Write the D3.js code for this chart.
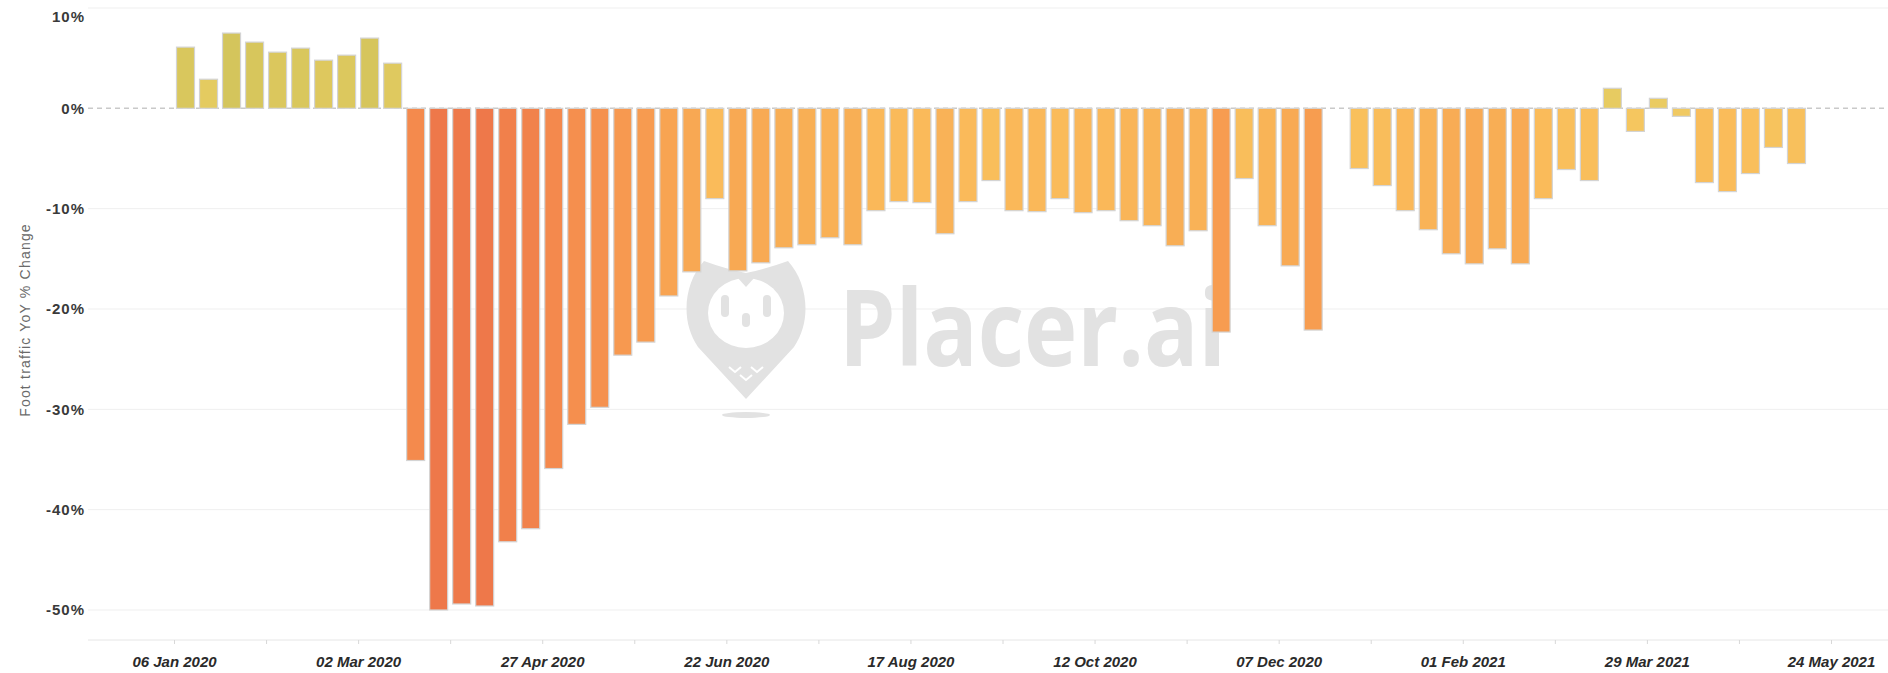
<!DOCTYPE html>
<html>
<head>
<meta charset="utf-8">
<title>Foot traffic YoY % Change</title>
<script src="https://cdn.jsdelivr.net/npm/d3@7"></script>
<style>
  body { margin: 0; background: #fff; }
  svg { display: block; font-family: "Liberation Sans", Arial, sans-serif; }
  .grid line { stroke: #efefef; stroke-width: 1; }
  .zero { stroke: #c9c9c9; stroke-width: 1.5; stroke-dasharray: 5,4; }
  .bar { stroke: #d4d4d4; stroke-width: 1.2; }
  .y-axis text { font-size: 15px; font-weight: bold; fill: #3a3a3a; letter-spacing: 1px; }
  .x-axis text { font-size: 15px; font-weight: bold; font-style: italic; fill: #2a2a2a; }
  .x-axis line { stroke: #d8d8d8; }
  .y-title { font-size: 14px; fill: #6a6a6a; letter-spacing: 1.2px; }
  .mark { fill: #e2e2e2; }
</style>
</head>
<body>
<div id="chart"></div>
<script>
// week start (Monday) for each bar
var weeks = [
  "2020-01-06", "2020-01-13", "2020-01-20", "2020-01-27", "2020-02-03", "2020-02-10",
  "2020-02-17", "2020-02-24", "2020-03-02", "2020-03-09", "2020-03-16", "2020-03-23",
  "2020-03-30", "2020-04-06", "2020-04-13", "2020-04-20", "2020-04-27", "2020-05-04",
  "2020-05-11", "2020-05-18", "2020-05-25", "2020-06-01", "2020-06-08", "2020-06-15",
  "2020-06-22", "2020-06-29", "2020-07-06", "2020-07-13", "2020-07-20", "2020-07-27",
  "2020-08-03", "2020-08-10", "2020-08-17", "2020-08-24", "2020-08-31", "2020-09-07",
  "2020-09-14", "2020-09-21", "2020-09-28", "2020-10-05", "2020-10-12", "2020-10-19",
  "2020-10-26", "2020-11-02", "2020-11-09", "2020-11-16", "2020-11-23", "2020-11-30",
  "2020-12-07", "2020-12-14", "2020-12-21", "2020-12-28", "2021-01-04", "2021-01-11",
  "2021-01-18", "2021-01-25", "2021-02-01", "2021-02-08", "2021-02-15", "2021-02-22",
  "2021-03-01", "2021-03-08", "2021-03-15", "2021-03-22", "2021-03-29", "2021-04-05",
  "2021-04-12", "2021-04-19", "2021-04-26", "2021-05-03", "2021-05-10"
];

// YoY % change, null = no data that week
var yoyChange = [
  6.1, 2.9, 7.5, 6.6, 5.6, 6.0,
  4.8, 5.3, 7.0, 4.5, -35.1, -50.0,
  -49.4, -49.6, -43.2, -41.9, -35.9, -31.5,
  -29.8, -24.6, -23.3, -18.7, -16.3, -9.0,
  -16.2, -15.4, -13.9, -13.6, -12.9, -13.6,
  -10.2, -9.3, -9.4, -12.5, -9.3, -7.2,
  -10.2, -10.3, -9.0, -10.4, -10.2, -11.2,
  -11.7, -13.7, -12.2, -22.3, -7.0, -11.7,
  -15.7, -22.1, null, -6.0, -7.7, -10.2,
  -12.1, -14.5, -15.5, -14.0, -15.5, -9.0,
  -6.1, -7.2, 2.0, -2.3, 1.0, -0.8,
  -7.4, -8.3, -6.5, -3.9, -5.5
];

var yTicks = [10, 0, -10, -20, -30, -40, -50];

var xTicks = [
  "2020-01-06", "2020-02-03", "2020-03-02", "2020-03-30", "2020-04-27", "2020-05-25",
  "2020-06-22", "2020-07-20", "2020-08-17", "2020-09-14", "2020-10-12", "2020-11-09",
  "2020-12-07", "2021-01-04", "2021-02-01", "2021-03-01", "2021-03-29", "2021-04-26",
  "2021-05-24"
];

(function(d3) {
  'use strict';

  var width = 1888;
  var height = 673;
  var plotLeft = 88;
  var plotRight = 1888;
  var axisY = 640;
  var barWidth = 18;

  var parse = d3.utcParse('%Y-%m-%d');
  var fmt = d3.utcFormat('%d %b %Y');

  var data = weeks.map(function(w, i) {
    return { date: parse(w), value: yoyChange[i] };
  }).filter(function(d) { return d.value !== null; });

  var tickDates = xTicks.map(parse);

  var x = d3.scaleUtc()
    .domain([tickDates[0], tickDates[tickDates.length - 1]])
    .range([174, 1831]);

  var y = d3.scaleLinear()
    .domain([10, -50])
    .range([8, 610]);

  var color = d3.scaleLinear()
    .domain([-50, -35, -23, -15, -9, -3, 0, 3, 8])
    .range(['#ee784a', '#f48a4d', '#f79b50', '#f8ab54', '#fabb5a',
            '#f7c45e', '#edcb63', '#e4cb60', '#d2c45b'])
    .clamp(true);

  var svg = d3.select('#chart')
    .append('svg')
    .attr('width', width)
    .attr('height', height);

  svg.append('rect')
    .attr('width', width)
    .attr('height', height)
    .attr('fill', '#fff');

  // gridlines
  svg.append('g')
    .attr('class', 'grid')
    .selectAll('line')
    .data(yTicks.filter(function(t) { return t !== 0; }))
    .enter().append('line')
    .attr('x1', plotLeft)
    .attr('x2', plotRight)
    .attr('y1', function(d) { return y(d); })
    .attr('y2', function(d) { return y(d); });

  // watermark
  var mark = svg.append('g').attr('class', 'mark');
  var owl = mark.append('g').attr('transform', 'translate(746,313)');
  owl.append('path')
    .attr('d', 'M-42,-52 Q-20,-44 0,-40 Q20,-44 42,-52 C62,-30 66,8 48,34 L0,86 L-48,34 C-66,8 -62,-30 -42,-52 Z');
  owl.append('ellipse')
    .attr('rx', 38).attr('ry', 35)
    .attr('fill', '#fff');
  owl.append('path')
    .attr('d', 'M-9,-36 L0,-26 L9,-36 Z');
  owl.selectAll('rect.eye')
    .data([-21, 21])
    .enter().append('rect')
    .attr('x', function(d) { return d - 4; })
    .attr('y', -18).attr('width', 8).attr('height', 22).attr('rx', 4);
  owl.append('rect')
    .attr('x', -4).attr('y', 0).attr('width', 8).attr('height', 14).attr('rx', 4);
  owl.selectAll('path.chev')
    .data([[-11, 54], [11, 54], [0, 62]])
    .enter().append('path')
    .attr('d', function(d) {
      return 'M' + (d[0] - 6) + ',' + d[1] + ' L' + d[0] + ',' + (d[1] + 5) + ' L' + (d[0] + 6) + ',' + d[1];
    })
    .attr('fill', 'none')
    .attr('stroke', '#fff')
    .attr('stroke-width', 2);
  mark.append('ellipse')
    .attr('cx', 746).attr('cy', 415)
    .attr('rx', 24).attr('ry', 3);
  mark.append('text')
    .attr('x', 839)
    .attr('y', 366)
    .attr('textLength', 387)
    .attr('lengthAdjust', 'spacingAndGlyphs')
    .style('font-family', '"Open Sans", "Liberation Sans", sans-serif')
    .style('font-weight', 'bold')
    .style('font-size', '106px')
    .text('Placer.ai');

  // zero line
  svg.append('line')
    .attr('class', 'zero')
    .attr('x1', plotLeft)
    .attr('x2', plotRight)
    .attr('y1', y(0))
    .attr('y2', y(0));

  // bars
  svg.append('g')
    .selectAll('rect')
    .data(data)
    .enter().append('rect')
    .attr('class', 'bar')
    .attr('x', function(d) {
      var band = x(d3.utcWeek.offset(d.date, 1)) - x(d.date);
      return x(d.date) + (band - barWidth) / 2;
    })
    .attr('y', function(d) { return y(Math.max(0, d.value)); })
    .attr('width', barWidth)
    .attr('height', function(d) { return Math.abs(y(d.value) - y(0)); })
    .attr('fill', function(d) { return color(d.value); });

  // x axis
  svg.append('line')
    .attr('x1', plotLeft)
    .attr('x2', plotRight)
    .attr('y1', axisY)
    .attr('y2', axisY)
    .attr('stroke', '#e6e6e6');

  var xAxis = svg.append('g')
    .attr('class', 'x-axis')
    .attr('transform', 'translate(0,' + axisY + ')')
    .call(d3.axisBottom(x)
      .tickValues(tickDates)
      .tickSize(4)
      .tickSizeOuter(0)
      .tickPadding(12)
      .tickFormat(function(d, i) { return i % 2 ? '' : fmt(d); }));
  xAxis.select('.domain').remove();

  // y axis
  var yAxis = svg.append('g')
    .attr('class', 'y-axis')
    .attr('transform', 'translate(85,0)')
    .call(d3.axisLeft(y)
      .tickValues(yTicks)
      .tickSize(0)
      .tickPadding(0)
      .tickFormat(function(d) { return d + '%'; }));
  yAxis.select('.domain').remove();
  yAxis.selectAll('.tick')
    .filter(function(d) { return d === 10; })
    .select('text')
    .attr('dy', '0.9em');

  svg.append('text')
    .attr('class', 'y-title')
    .attr('transform', 'translate(25,320) rotate(-90)')
    .attr('text-anchor', 'middle')
    .attr('dy', '0.35em')
    .text('Foot traffic YoY % Change');

})(window.d3);
</script>
</body>
</html>
